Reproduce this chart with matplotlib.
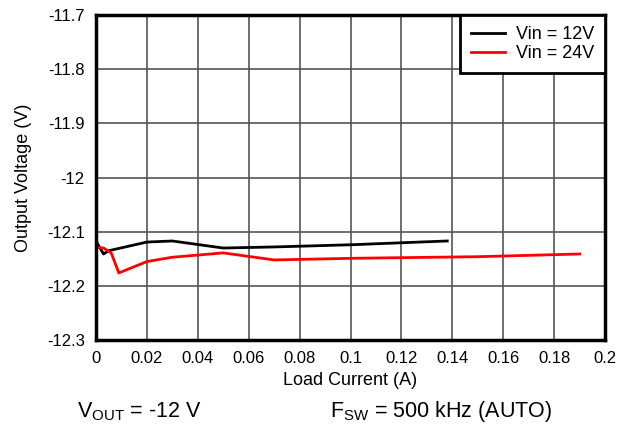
import matplotlib
matplotlib.use("Agg")
import matplotlib.pyplot as plt

plt.rcParams['font.family'] = ['Liberation Sans', 'DejaVu Sans']

# Vin = 12V
i_12 = [0, 0.003, 0.005, 0.02, 0.03, 0.05, 0.07, 0.1, 0.138]
v_12 = [-12.117, -12.141, -12.135, -12.119, -12.117, -12.130, -12.128, -12.124, -12.117]

# Vin = 24V
i_24 = [0, 0.003, 0.006, 0.009, 0.02, 0.03, 0.05, 0.07, 0.1, 0.15, 0.19]
v_24 = [-12.128, -12.130, -12.139, -12.176, -12.155, -12.147, -12.139, -12.152, -12.149, -12.146, -12.141]

xticks = [0, 0.02, 0.04, 0.06, 0.08, 0.1, 0.12, 0.14, 0.16, 0.18, 0.2]
yticks = [-12.3, -12.2, -12.1, -12, -11.9, -11.8, -11.7]

fig = plt.figure(figsize=(6.31, 4.30), dpi=100)
ax = fig.add_axes([0.152, 0.209, 0.807, 0.756])

ax.plot(i_12, v_12, color='black', lw=2, label='Vin = 12V')
ax.plot(i_24, v_24, color='red', lw=2, label='Vin = 24V')

ax.set_xlim(0, 0.2)
ax.set_ylim(-12.3, -11.7)
ax.set_xticks(xticks)
ax.set_xticklabels(['0', '0.02', '0.04', '0.06', '0.08', '0.1', '0.12', '0.14', '0.16', '0.18', '0.2'])
ax.set_yticks(yticks)
ax.set_yticklabels(['-12.3', '-12.2', '-12.1', '-12', '-11.9', '-11.8', '-11.7'])
ax.tick_params(labelsize=12, length=0, pad=8)
ax.grid(True, color='#555555', lw=1.2)
for s in ax.spines.values():
    s.set_linewidth(2.5)

ax.set_xlabel('Load Current (A)', fontsize=13, labelpad=4)
ax.set_ylabel('Output Voltage (V)', fontsize=13, labelpad=11)

leg = ax.legend(loc='upper right', fontsize=13, fancybox=False, framealpha=1,
                edgecolor='black', borderaxespad=0, handlelength=1.9,
                borderpad=0.6, labelspacing=0.12, handletextpad=0.6)
leg.get_frame().set_linewidth(2)

fig.text(0.122, 0.03, r'V$_{\mathregular{OUT}}$ = -12 V', fontsize=15.5)
fig.text(0.523, 0.03, r'F$_{\mathregular{SW}}$ = 500 kHz (AUTO)', fontsize=15.5)

fig.savefig('out.png', dpi=100)
